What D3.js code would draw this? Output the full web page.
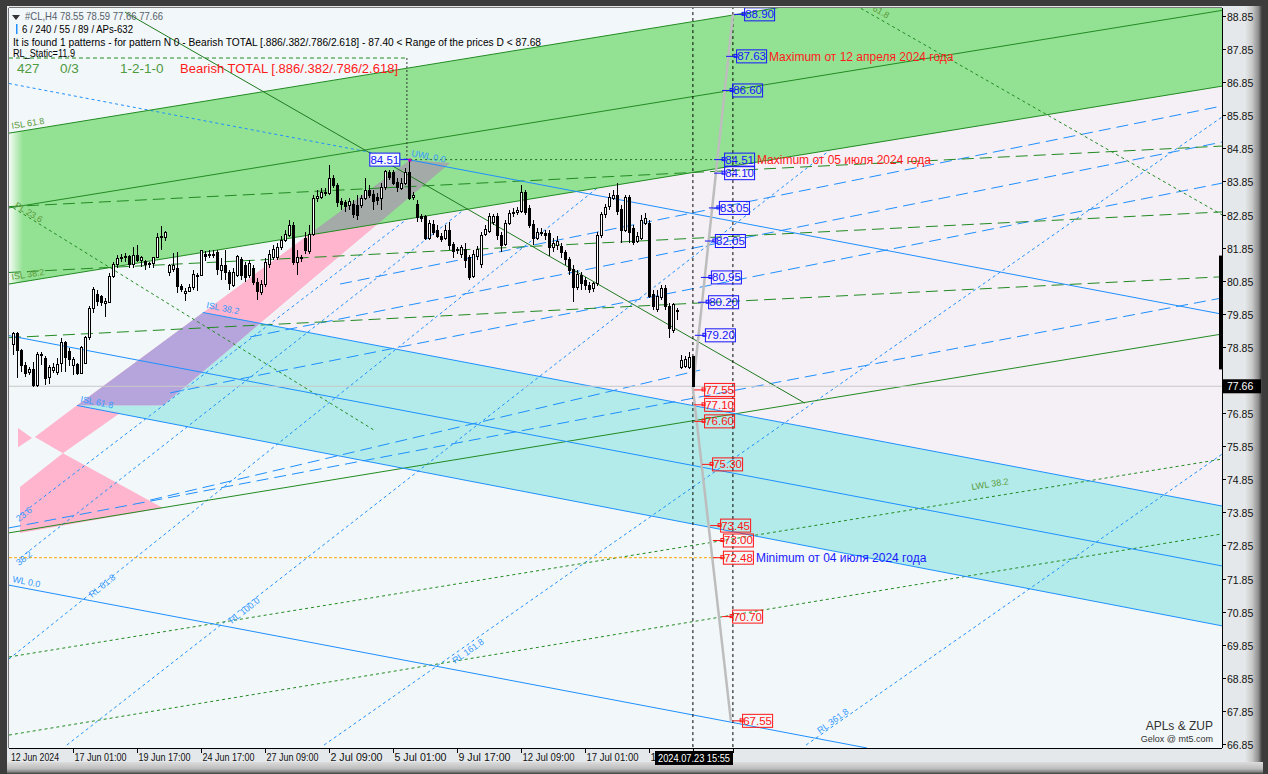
<!DOCTYPE html>
<html><head><meta charset="utf-8">
<script src="https://cdn.jsdelivr.net/npm/d3@7"></script>
<style>
body{margin:0;background:#3c3c3c;}
svg text{font-family:"Liberation Sans",Arial,sans-serif;}
</style>
</head><body><svg id="c" width="1268" height="774"></svg>
<script>
// ---------------- DATA ----------------
// H4 candles [open, high, low, close], bar index 0..170
const candles = [
[78.91,79.30,78.61,79.27],[79.27,79.30,77.91,78.73],[78.73,78.79,78.09,78.30],[78.30,78.39,77.94,78.06],
[78.09,78.24,78.00,78.18],[78.18,78.39,77.64,77.67],[77.67,78.70,77.64,78.61],[78.61,78.70,78.30,78.58],
[78.51,78.58,77.70,77.91],[77.94,78.30,77.73,78.24],[78.15,78.36,78.06,78.24],[78.09,78.51,78.00,78.33],
[78.36,79.12,78.09,78.97],[78.97,79.03,78.09,78.54],[78.70,78.82,78.27,78.48],[78.30,78.54,78.00,78.48],
[78.33,78.36,78.00,78.06],[78.06,78.88,78.03,78.82],[78.36,79.18,78.36,79.12],[79.12,80.09,79.06,80.00],
[80.00,80.66,79.87,80.57],[80.42,80.57,80.09,80.21],[80.36,80.42,80.09,80.18],[80.15,80.33,79.75,80.21],
[80.18,81.08,80.18,80.99],[80.99,81.42,80.93,81.33],[81.33,81.63,81.23,81.51],[81.51,81.66,81.42,81.54],
[81.54,81.69,81.42,81.57],[81.57,81.63,81.23,81.33],[81.33,81.87,81.23,81.60],[81.60,81.93,81.42,81.45],
[81.45,81.60,81.26,81.54],[81.42,81.48,81.17,81.33],[81.36,81.42,81.23,81.35],[81.36,81.57,81.23,81.54],
[81.54,82.29,81.54,82.17],[82.17,82.50,81.78,82.20],[82.17,82.35,82.05,82.32],[81.11,81.36,80.99,81.30],
[81.20,81.69,81.11,81.30],[81.23,81.72,80.48,80.69],[80.69,80.75,80.51,80.57],[80.45,80.63,80.24,80.51],
[80.51,80.75,80.51,80.66],[80.66,81.17,80.57,81.05],[81.02,81.08,80.54,80.99],[81.02,81.78,81.02,81.75],
[81.63,81.75,81.45,81.57],[81.60,81.78,81.54,81.63],[81.63,81.78,81.54,81.60],[81.69,81.78,81.02,81.20],
[81.17,81.54,80.87,81.30],[81.30,81.78,80.87,81.11],[81.11,81.17,80.57,80.78],[80.72,81.23,80.66,81.11],
[81.02,81.63,80.96,81.57],[81.48,81.57,80.87,81.02],[81.30,81.42,80.81,80.96],[81.02,81.48,80.93,81.36],
[81.23,81.33,80.72,80.81],[80.81,80.93,80.27,80.51],[80.48,80.87,80.42,80.75],[80.75,81.54,80.66,81.39],
[81.33,81.78,81.23,81.63],[81.54,81.93,81.48,81.78],[81.54,81.99,81.48,81.84],[81.84,82.20,81.78,82.08],
[82.08,82.38,82.02,82.26],[82.23,82.68,82.17,82.53],[82.53,82.62,81.33,81.39],[81.39,81.78,81.02,81.54],
[81.54,81.63,81.42,81.51],[82.14,82.32,81.66,81.75],[81.72,82.53,81.66,82.26],[82.26,83.44,82.20,83.35],
[83.35,83.59,83.23,83.41],[83.38,83.65,83.32,83.53],[83.53,83.65,83.41,83.51],[83.50,84.35,83.44,83.95],
[83.95,84.04,83.65,83.74],[83.74,83.80,83.08,83.20],[83.23,83.35,82.99,83.14],[83.20,83.29,82.93,83.08],
[83.11,83.35,82.99,83.23],[83.14,83.29,82.75,82.84],[83.11,83.44,82.68,82.81],[83.11,83.44,83.05,83.35],
[83.35,83.95,83.29,83.59],[83.59,83.74,83.35,83.44],[83.47,83.59,82.99,83.23],[83.38,83.50,83.14,83.26],
[83.32,83.80,82.99,83.68],[83.68,84.20,83.59,84.14],[84.11,84.20,83.89,83.98],[84.11,84.20,83.74,83.80],
[83.83,83.95,83.53,83.68],[83.65,83.95,83.59,83.80],[83.80,84.26,83.74,84.11],[84.11,84.51,83.29,83.35],
[83.38,83.53,83.29,83.44],[83.14,83.29,82.62,82.75],[82.78,82.87,82.62,82.72],[82.78,82.84,82.08,82.14],
[82.14,82.68,82.08,82.59],[82.56,82.68,82.23,82.32],[82.38,82.53,82.14,82.20],[82.20,82.29,82.02,82.11],
[82.14,82.53,82.08,82.38],[82.38,82.62,81.78,81.90],[81.93,82.02,81.54,81.72],[81.78,81.87,81.66,81.75],
[81.63,81.93,81.54,81.84],[81.78,81.99,81.23,81.45],[81.54,81.63,80.87,80.96],[80.99,81.78,80.93,81.63],
[81.57,81.90,81.48,81.78],[81.33,82.32,81.23,82.23],[82.26,82.53,82.20,82.41],[82.35,82.90,82.29,82.78],
[82.62,82.87,82.53,82.78],[82.78,82.90,82.08,82.23],[82.23,82.32,81.72,81.90],[81.93,82.68,81.90,82.59],
[82.59,82.99,82.53,82.87],[82.87,83.05,82.78,82.90],[82.90,83.08,82.84,82.96],[82.93,83.74,82.90,83.53],
[83.53,83.59,82.84,82.90],[83.02,83.14,82.44,82.53],[82.56,82.68,81.93,82.14],[82.14,82.44,82.08,82.32],
[82.32,82.44,82.20,82.29],[82.29,82.38,82.08,82.23],[82.29,82.38,81.60,81.84],[81.84,82.14,81.72,81.99],
[81.90,82.20,81.78,82.05],[81.87,81.99,81.54,81.69],[81.69,81.78,81.33,81.48],[81.48,81.57,81.02,81.17],
[81.20,81.33,80.21,80.66],[80.66,81.17,80.57,81.05],[81.02,81.11,80.57,80.78],[80.87,80.96,80.57,80.72],
[80.72,80.81,80.48,80.60],[80.63,80.81,80.51,80.78],[80.78,82.32,80.69,82.23],[82.23,82.93,82.14,82.84],
[82.84,83.17,82.75,83.05],[83.08,83.50,82.99,83.38],[83.35,83.59,83.29,83.44],[83.44,83.80,82.84,82.93],
[82.99,83.14,81.99,82.38],[82.38,83.44,82.32,83.38],[83.38,83.44,81.99,82.32],[82.44,82.53,81.93,82.02],
[82.05,82.32,81.99,82.20],[82.14,82.84,82.08,82.68],[82.59,82.90,82.53,82.72],[82.59,82.68,80.33,80.36],
[80.42,80.57,79.97,80.06],[79.97,80.57,79.91,80.36],[80.33,80.72,80.27,80.63],[80.63,80.72,79.97,80.06],
[80.06,80.18,79.12,79.42],[79.36,80.18,79.27,80.12],[79.94,80.03,79.66,79.91],[78.24,78.61,78.18,78.45],
[78.27,78.58,78.21,78.48],[78.24,78.70,78.18,78.54],[78.55,78.59,77.66,77.66]
];
const priceTicks = [88.85,87.85,86.85,85.85,84.85,83.85,82.85,81.85,80.85,79.85,78.85,77.85,76.85,75.85,74.85,73.85,72.85,71.85,70.85,69.85,68.85,67.85,66.85];
const timeLabels = ["17 Jun 01:00","19 Jun 17:00","24 Jun 17:00","27 Jun 09:00","2 Jul 09:00","5 Jul 01:00","9 Jul 17:00","12 Jul 09:00","17 Jul 01:00"];
const timeLabelBars = [15,31,47,63,79,95,111,127,143];
const hiddenLabelBar = 159, hiddenLabelVisible = "1";
const firstDateLabel = "12 Jun 2024";
const cursorTimeLabel = "2024.07.23 15:55";
const lastPrice = 77.66;
// level tags: price, bar where the connector starts
const levelsUp = [88.90,87.63,86.60,84.51,84.10,83.05,82.05,80.95,80.20,79.20];
const levelsUpBar = [180.2,178.2,177.2,175.2,175.2,173.9,172.9,171.9,171.2,170.4];
const levelsDown = [77.55,77.10,76.60,75.30,73.45,73.00,72.48,70.70,67.55];
const levelsDownBar = [170.2,170.2,170.2,172.2,174.2,174.9,174.9,177.2,179.7];
const notes = [
  {price:87.63, text:"Maximum от 12 апреля 2024 года", color:"#ff1a1a"},
  {price:84.51, text:"Maximum от 05 июля 2024 года", color:"#ff1a1a"},
  {price:72.48, text:"Minimum от 04 июля 2024 года", color:"#1a1aff"}
];
// trend objects: [bar, price] end points
const greenTop = [[-1.08,85.31],[302.2,91.29]];
const greenMid = [[-1.08,83.05],[302.2,89.02]];
const greenBot = [[-1.08,80.75],[302.2,86.73]];
const uwlDotted = [[-1.08,86.81],[99.2,84.50]];
const uwl = [[99.2,84.50],[302.2,79.84]];
const cyanUp = [[47.4,79.89],[302.2,74.04]];
const cyanMid = [[-1.08,79.19],[302.2,72.23]];
const cyanLow = [[15.93,77.08],[302.2,70.42]];
const wl0 = [[-1.08,71.65],[213.4,66.73]];
const pinkBand = [[15.93,77.09],[99.2,84.50],[109.2,84.41],[37.43,77.09]];
const pinkCyanCross = [61.7,79.51];
const pinkD1 = [[15.93,77.09],[26.7,76.85],[12.4,75.64],[5.4,76.13]];
const pinkT2 = [[12.4,75.64],[37.4,73.98],[1.68,73.23],[1.68,74.62]];
const pinkT3 = [[1.18,76.40],[4.68,76.10],[1.18,75.82]];
const darkGreenDown = [[27.9,88.97],[197.9,77.15]];
const greenRise = [[-1.08,73.23],[302.2,79.24]];
const greenDashA = [[-1.08,83.09],[302.2,84.92]];
const greenDashB = [[-1.08,81.10],[302.2,82.93]];
const greenDashC = [[-1.08,79.13],[302.2,80.97]];
const lwl382 = [[-1.08,69.48],[302.2,75.46]];
const lwlLow = [[-1.08,67.12],[302.2,73.20]];
const dotGreenTR = [[208,89.35],[302.2,82.84]];
const pl236 = [[0,83.05],[44.2,79.75],[90,76.35]];
// reverse (RL) fan lines, fine dashed
const fanLines = [
  [[1.68,73.77],[107.9,83.59]],   // 23.6
  [[1.68,72.47],[169.9,88.43]],   // 38.2
  [[-1.08,69.42],[202.2,89.09]],  // RL 61.8
  [[13.4,66.82],[249.7,89.09]],   // RL 100.0
  [[77.7,66.82],[302.2,85.80]],   // RL 161.8
  [[198.2,66.82],[302.2,75.61]]   // RL 361.8
];
// long-dash blue lines
const blueLongDash = [
  [[-1.08,73.38],[302.2,80.33]],
  [[39.2,77.46],[302.2,83.80]],
  [[59.2,79.15],[302.2,85.04]],
  [[81.7,80.75],[302.2,86.13]],
  [[34.2,74.22],[171.7,78.15]]
];
const grayPath = [[179.9,88.90],[169.9,77.60],[179.4,67.55]];
const peakBar = 98.4, peakPrice = 84.51, boxTopPrice = 87.58;

// ---------------- SCALES ----------------
const x = d3.scaleLinear().domain([0,170]).range([13.3,693.3]);
const y = d3.scaleLinear().domain([66.85,88.85]).range([744,16]);
const P = {l:9,t:8,r:1222,b:748};

const svg = d3.select('#c');
const defs = svg.append('defs');
const gR = defs.append('linearGradient').attr('id','gR').attr('x1',0).attr('x2',1).attr('y1',0).attr('y2',0);
gR.append('stop').attr('offset',0).attr('stop-color','#e8ecee');
gR.append('stop').attr('offset',0.45).attr('stop-color','#c9c9c9');
gR.append('stop').attr('offset',0.8).attr('stop-color','#8d8d8d');
gR.append('stop').attr('offset',1).attr('stop-color','#3c3c3c');
const gB = defs.append('linearGradient').attr('id','gB').attr('x1',0).attr('x2',0).attr('y1',0).attr('y2',1);
gB.append('stop').attr('offset',0).attr('stop-color','#dcdcdc');
gB.append('stop').attr('offset',0.55).attr('stop-color','#bdbdbd');
gB.append('stop').attr('offset',0.8).attr('stop-color','#8a8a8a');
gB.append('stop').attr('offset',1).attr('stop-color','#3c3c3c');
const gL = defs.append('linearGradient').attr('id','gL').attr('x1',0).attr('x2',1).attr('y1',0).attr('y2',0);
gL.append('stop').attr('offset',0).attr('stop-color','#f4fbf4');
gL.append('stop').attr('offset',1).attr('stop-color','#93e193');

defs.append('clipPath').attr('id','plotClip').append('rect')
  .attr('x',P.l).attr('y',P.t).attr('width',P.r-P.l).attr('height',P.b-P.t);

const ln = d3.line().x(d=>x(d[0])).y(d=>y(d[1]));
const poly = pts => ln(pts)+'Z';

// frame
svg.append('rect').attr('x',0).attr('y',0).attr('width',1268).attr('height',774).attr('fill','#3c3c3c');
svg.append('rect').attr('x',7).attr('y',6).attr('width',1254).attr('height',762).attr('fill','#e4e8ea');
svg.append('rect').attr('x',1244).attr('y',6).attr('width',18).attr('height',762).attr('fill','url(#gR)');
svg.append('rect').attr('x',7).attr('y',762).attr('width',1256).attr('height',12).attr('fill','url(#gB)');
svg.append('rect').attr('x',P.l).attr('y',P.t).attr('width',P.r-P.l).attr('height',P.b-P.t).attr('fill','#f2f7f9');

const g = svg.append('g').attr('clip-path','url(#plotClip)');
function drawLine(pts, color, width, dash){
  const p = g.append('path').attr('d',ln(pts)).attr('fill','none').attr('stroke',color).attr('stroke-width',width||1);
  if(dash) p.attr('stroke-dasharray',dash);
  return p;
}

g.append('path').attr('d', poly([[109.2,84.41],greenBot[1],cyanUp[1],pinkCyanCross]))
  .attr('fill','#f5eff6');

const greenPoly = [greenTop[0],greenTop[1],greenBot[1],greenBot[0]];
const cyanPoly = [cyanUp[0],cyanUp[1],cyanLow[1],cyanLow[0]];
defs.append('clipPath').attr('id','clipGreen').append('path').attr('d',poly(greenPoly));
defs.append('clipPath').attr('id','clipCyan').append('path').attr('d',poly(cyanPoly));

// cyan + pink fills (lines drawn over them)
g.append('path').attr('d',poly(cyanPoly)).attr('fill','#b2ebe9');
[pinkBand,pinkD1,pinkT2,pinkT3].forEach(p=>g.append('path').attr('d',poly(p)).attr('fill','#ffb5cd'));
g.append('g').attr('clip-path','url(#clipCyan)').append('path').attr('d',poly(pinkBand)).attr('fill','#b6a5dc');

// fine-dashed fan and long-dash blue lines (under the green channel fill)
fanLines.forEach(l=>drawLine(l,'#1e90ff',1,'3,3'));
blueLongDash.forEach(l=>drawLine(l,'#1e90ff',1,'12,6'));

// green channel fill
g.append('path').attr('d',poly(greenPoly)).attr('fill','#93e193');
g.append('g').attr('clip-path','url(#clipGreen)').append('rect')
  .attr('x',P.l).attr('y',P.t).attr('width',14).attr('height',P.b-P.t).attr('fill','url(#gL)');
g.append('g').attr('clip-path','url(#clipGreen)').append('path').attr('d',poly(pinkBand)).attr('fill','#a3aaa7');

drawLine(uwlDotted,'#1e90ff',1,'3,3');
[greenDashA,greenDashB,greenDashC].forEach(l=>drawLine(l,'#228b22',1,'12,6'));
[lwl382,lwlLow].forEach(l=>drawLine(l,'#228b22',1,'3,3'));
drawLine(dotGreenTR,'#228b22',1,'3,3');
drawLine(pl236,'#228b22',1,'3,3');
[greenTop,greenMid,greenBot].forEach(l=>drawLine(l,'#228b22',1));
drawLine(greenRise,'#228b22',1);
drawLine(darkGreenDown,'#1f7a1f',1);
[uwl,cyanUp,cyanMid,cyanLow,wl0].forEach(l=>drawLine(l,'#1e90ff',1));
drawLine([[-1.08,72.48],[178,72.48]],'#ffa500',1,'3,2');
drawLine([[-1.08,lastPrice],[302.2,lastPrice]],'#c8c8c8',1);
drawLine([[-1.08,boxTopPrice],[peakBar,boxTopPrice]],'#228b22',1,'4,3');
drawLine([[peakBar,boxTopPrice],[peakBar,peakPrice]],'#333',1,'2,2');
drawLine([[99.2,peakPrice],[175,peakPrice]],'#226622',1,'2,3');
[169.9,179.9].forEach(b=>drawLine([[b,88.85+0.3],[b,66.85-0.3]],'#000',1,'3,3'));
drawLine(grayPath,'#bdbdbd',2.5);

// candles
const cg = g.append('g').attr('shape-rendering','crispEdges');
candles.forEach((c,i)=>{
  const cx = Math.round(x(i));
  cg.append('line').attr('x1',cx+0.5).attr('x2',cx+0.5).attr('y1',y(c[1])).attr('y2',y(c[2])).attr('stroke','#000');
  const top = Math.min(y(c[0]),y(c[3])), h = Math.max(1,Math.abs(y(c[0])-y(c[3])));
  cg.append('rect').attr('x',cx-1+0.5).attr('y',top).attr('width',2).attr('height',h)
    .attr('fill',c[3]>=c[0]?'#fff':'#000').attr('stroke','#000').attr('stroke-width',1);
});

const tagX = {};
function tag(price,bar,color){
  const gx = x(bar), bx = gx+10, by = y(price);
  tagX[price] = bx;
  g.append('line').attr('x1',gx).attr('x2',bx).attr('y1',by).attr('y2',by).attr('stroke',color);
  g.append('rect').attr('x',bx-2).attr('y',by-2).attr('width',3).attr('height',3).attr('fill','none').attr('stroke',color);
  g.append('rect').attr('x',bx+0.5).attr('y',by-6.5).attr('width',30).attr('height',13).attr('fill','none').attr('stroke',color).attr('stroke-width',1);
  g.append('text').attr('x',bx+15.5).attr('y',by+4).attr('text-anchor','middle').attr('font-size',11.5).attr('fill',color).text(price.toFixed(2));
}
levelsUp.forEach((p,k)=>tag(p,levelsUpBar[k],'#1515ff'));
levelsDown.forEach((p,k)=>tag(p,levelsDownBar[k],'#ff1515'));
notes.forEach(n=>{
  g.append('text').attr('x',tagX[n.price]+33).attr('y',y(n.price)+4.5).attr('font-size',12).attr('fill',n.color).text(n.text);
});
{
  const px = x(99), py = y(peakPrice);
  g.append('line').attr('x1',px-9).attr('x2',px).attr('y1',py).attr('y2',py).attr('stroke','#1515ff');
  g.append('rect').attr('x',px-1).attr('y',py-1).attr('width',3).attr('height',3).attr('fill','#c000c0');
  g.append('rect').attr('x',px-39.5).attr('y',py-6.5).attr('width',30).attr('height',13).attr('fill','#f4f8fa').attr('stroke','#1515ff');
  g.append('text').attr('x',px-24.5).attr('y',py+4).attr('text-anchor','middle').attr('font-size',11.5).attr('fill','#1515ff').text(peakPrice.toFixed(2));
}

function lbl(txt, px, py, rot, color, size){
  g.append('text').attr('transform',`translate(${px},${py}) rotate(${rot})`).attr('font-size',size||9).attr('fill',color).text(txt);
}
lbl('ISL 61.8',12,129,-9,'#5a9a3a');
lbl('PL 23.6',14,207,31,'#5a9a3a');
lbl('ISL 38.2',12,280,-9,'#5a9a3a');
lbl('ISL 38.2',206,308,11,'#3399ff');
lbl('ISL 61.8',80,402,11,'#3399ff');
lbl('UWL 0.0',411,156,11,'#3399ff');
lbl('WL 0.0',12,582,11,'#3399ff');
lbl('23.6',19,522,-38,'#3399ff');
lbl('38.2',19,566,-38,'#3399ff');
lbl('RL 61.8',92,598,-39,'#3399ff');
lbl('RL 100.0',232,624,-38,'#3399ff');
lbl('RL 161.8',455,664,-35,'#3399ff');
lbl('RL 361.8',820,734,-36,'#3399ff');
lbl('LWL 38.2',972,490,-9,'#5a9a3a');
lbl('61.8',872,10,30,'#5a9a3a');

// axes
const ax = svg.append('g').attr('shape-rendering','crispEdges');
ax.append('line').attr('x1',P.r+0.5).attr('x2',P.r+0.5).attr('y1',P.t).attr('y2',P.b).attr('stroke','#000');
ax.append('line').attr('x1',P.l).attr('x2',P.r).attr('y1',P.b+0.5).attr('y2',P.b+0.5).attr('stroke','#000');
ax.append('line').attr('x1',P.l-0.5).attr('x2',P.l-0.5).attr('y1',P.t).attr('y2',P.b).attr('stroke','#777');
ax.append('line').attr('x1',P.l).attr('x2',P.r).attr('y1',P.t-0.5).attr('y2',P.t-0.5).attr('stroke','#777');
priceTicks.forEach(v=>{
  const yy = Math.round(y(v))+0.5;
  ax.append('line').attr('x1',P.r).attr('x2',P.r+4).attr('y1',yy).attr('y2',yy).attr('stroke','#000');
  if (Math.abs(y(v)-y(lastPrice))>10)
    svg.append('text').attr('x',1227).attr('y',yy+4).attr('font-size',10.5).attr('fill','#111').text(v.toFixed(2));
});
svg.append('rect').attr('x',1219).attr('y',y(81.61)).attr('width',3).attr('height',y(78.17)-y(81.61)).attr('fill','#000');
svg.append('rect').attr('x',1223).attr('y',y(lastPrice)-7).attr('width',38).attr('height',14).attr('fill','#000');
svg.append('text').attr('x',1227).attr('y',y(lastPrice)+4).attr('font-size',10.5).attr('fill','#fff').text(lastPrice.toFixed(2));

timeLabelBars.forEach((b,k)=>{
  const xx = Math.round(x(b))+0.5;
  ax.append('line').attr('x1',xx).attr('x2',xx).attr('y1',P.b).attr('y2',P.b+5).attr('stroke','#000');
  svg.append('text').attr('x',xx+1).attr('y',761).attr('font-size',10.5).attr('fill','#111')
    .attr('textLength',52).attr('lengthAdjust','spacingAndGlyphs').text(timeLabels[k]);
});
{
  const xx = Math.round(x(hiddenLabelBar))+0.5;
  ax.append('line').attr('x1',xx).attr('x2',xx).attr('y1',P.b).attr('y2',P.b+5).attr('stroke','#000');
  svg.append('text').attr('x',xx+1).attr('y',761).attr('font-size',10.5).attr('fill','#111').text(hiddenLabelVisible);
}
svg.append('text').attr('x',11).attr('y',761).attr('font-size',10.5).attr('fill','#111')
  .attr('textLength',48).attr('lengthAdjust','spacingAndGlyphs').text(firstDateLabel);
{
  ax.append('line').attr('x1',Math.round(x(179.9))+0.5).attr('x2',Math.round(x(179.9))+0.5).attr('y1',P.b).attr('y2',P.b+5).attr('stroke','#000');
  ax.append('line').attr('x1',Math.round(x(169.9))+0.5).attr('x2',Math.round(x(169.9))+0.5).attr('y1',P.b).attr('y2',P.b+5).attr('stroke','#000');
  svg.append('rect').attr('x',655).attr('y',751).attr('width',78).attr('height',14).attr('fill','#000');
  svg.append('text').attr('x',658).attr('y',762).attr('font-size',10.5).attr('fill','#fff')
    .attr('textLength',72).attr('lengthAdjust','spacingAndGlyphs').text(cursorTimeLabel);
}

// header texts
const ht = svg.append('g');
ht.append('path').attr('d','M12,15 L20,15 L16,20 Z').attr('fill','#333');
ht.append('text').attr('x',25).attr('y',20).attr('font-size',10.5).attr('fill','#55606a')
  .attr('textLength',138).attr('lengthAdjust','spacingAndGlyphs').text('#CL,H4  78.55 78.59 77.66 77.66');
ht.append('rect').attr('x',16).attr('y',24).attr('width',1.5).attr('height',10).attr('fill','#1e90ff');
ht.append('text').attr('x',22).attr('y',33).attr('font-size',10.5).attr('fill','#000')
  .attr('textLength',111).attr('lengthAdjust','spacingAndGlyphs').text('6 / 240 / 55 / 89 / APs-632');
ht.append('text').attr('x',13).attr('y',45.5).attr('font-size',10.5).attr('fill','#000').attr('textLength',528).attr('lengthAdjust','spacingAndGlyphs')
  .text('It is found 1 patterns  -  for pattern N 0 - Bearish TOTAL [.886/.382/.786/2.618] - 87.40 < Range of the prices D < 87.68');
ht.append('text').attr('x',13).attr('y',57).attr('font-size',10.5).attr('fill','#000')
  .attr('textLength',62).attr('lengthAdjust','spacingAndGlyphs').text('RL_Static=11.9');
ht.append('text').attr('x',17).attr('y',73).attr('font-size',13.5).attr('fill','#4f9a3f').text('427');
ht.append('text').attr('x',60).attr('y',73).attr('font-size',13.5).attr('fill','#4f9a3f').text('0/3');
ht.append('text').attr('x',120).attr('y',73).attr('font-size',13.5).attr('fill','#4f9a3f').text('1-2-1-0');
ht.append('text').attr('x',180).attr('y',73).attr('font-size',13.5).attr('fill','#ff1a1a')
  .attr('textLength',218).attr('lengthAdjust','spacingAndGlyphs').text('Bearish TOTAL [.886/.382/.786/2.618]');
svg.append('text').attr('x',1213).attr('y',730).attr('text-anchor','end').attr('font-family','Liberation Serif').attr('font-size',12).attr('fill','#333').text('APLs & ZUP');
svg.append('text').attr('x',1213).attr('y',742).attr('text-anchor','end').attr('font-family','Liberation Serif').attr('font-size',9).attr('fill','#333').text('Gelox @ mt5.com');
</script></body></html>
